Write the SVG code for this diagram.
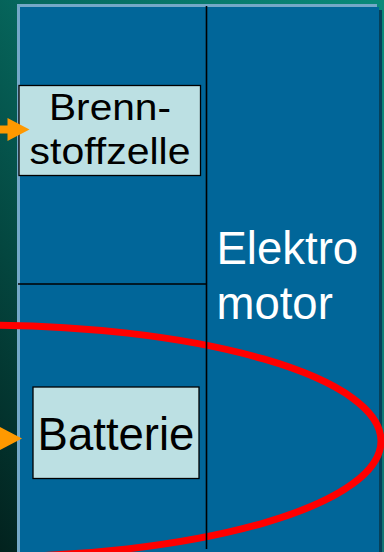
<svg xmlns="http://www.w3.org/2000/svg" width="384" height="552" viewBox="0 0 384 552">
<defs>
<linearGradient id="bg" x1="1" y1="0" x2="0" y2="1">
<stop offset="0" stop-color="#0a8a7a"/>
<stop offset="0.45" stop-color="#066a60"/>
<stop offset="1" stop-color="#02221e"/>
</linearGradient>
<linearGradient id="rightStrip" x1="0" y1="0" x2="0" y2="1">
<stop offset="0" stop-color="#0a8a7a"/>
<stop offset="1" stop-color="#117474"/>
</linearGradient>
</defs>
<style>
.box{fill:#bce0e3;stroke:#000;stroke-width:1.3}
.dark{font-family:"Liberation Sans",Arial,sans-serif;fill:#000}
.light{font-family:"Liberation Sans",Arial,sans-serif;fill:#fff;font-size:45.5px}
.div{stroke:#000;stroke-width:1.6;fill:none}
.arrow{fill:#ff9900}
</style>
<rect x="0" y="0" width="384" height="552" fill="url(#bg)"/>
<rect x="380" y="0" width="4" height="552" fill="url(#rightStrip)"/>
<g id="panel">
<rect x="17" y="4" width="360" height="548" fill="#74a8c8"/>
<rect x="20" y="7" width="359" height="545" fill="#016699"/>
<rect x="379" y="10" width="3" height="542" fill="#06405a"/>
</g>
<g id="ellipse">
<ellipse cx="-20" cy="441" rx="401" ry="116" fill="none" stroke="#ff0000" stroke-width="7"/>
</g>
<g id="dividers">
<line class="div" x1="206.5" y1="6" x2="206.5" y2="549"/>
<line class="div" x1="18" y1="284" x2="207" y2="284"/>
</g>
<g id="brennstoffzelle">
<rect class="box" x="19" y="85.5" width="181.5" height="90"/>
<text class="dark" x="110" y="119.5" font-size="37.5" text-anchor="middle" textLength="122" lengthAdjust="spacingAndGlyphs">Brenn-</text>
<text class="dark" x="110" y="164" font-size="37.5" text-anchor="middle" textLength="161" lengthAdjust="spacingAndGlyphs">stoffzelle</text>
</g>
<g id="batterie">
<rect class="box" x="33" y="387" width="166" height="91.5"/>
<text class="dark" x="116" y="449.5" font-size="45.5" text-anchor="middle">Batterie</text>
</g>
<g id="elektromotor">
<text class="light" x="216.5" y="263.5">Elektro</text>
<text class="light" x="216.5" y="318.5">motor</text>
</g>
<g id="connectors">
<path class="arrow" d="M0,125.5 H7.5 V118 L29.5,129.5 L7.5,141 V133.5 H0 Z"/>
<path class="arrow" d="M0,427 L22,438.5 L0,450 Z"/>
</g>
</svg>
